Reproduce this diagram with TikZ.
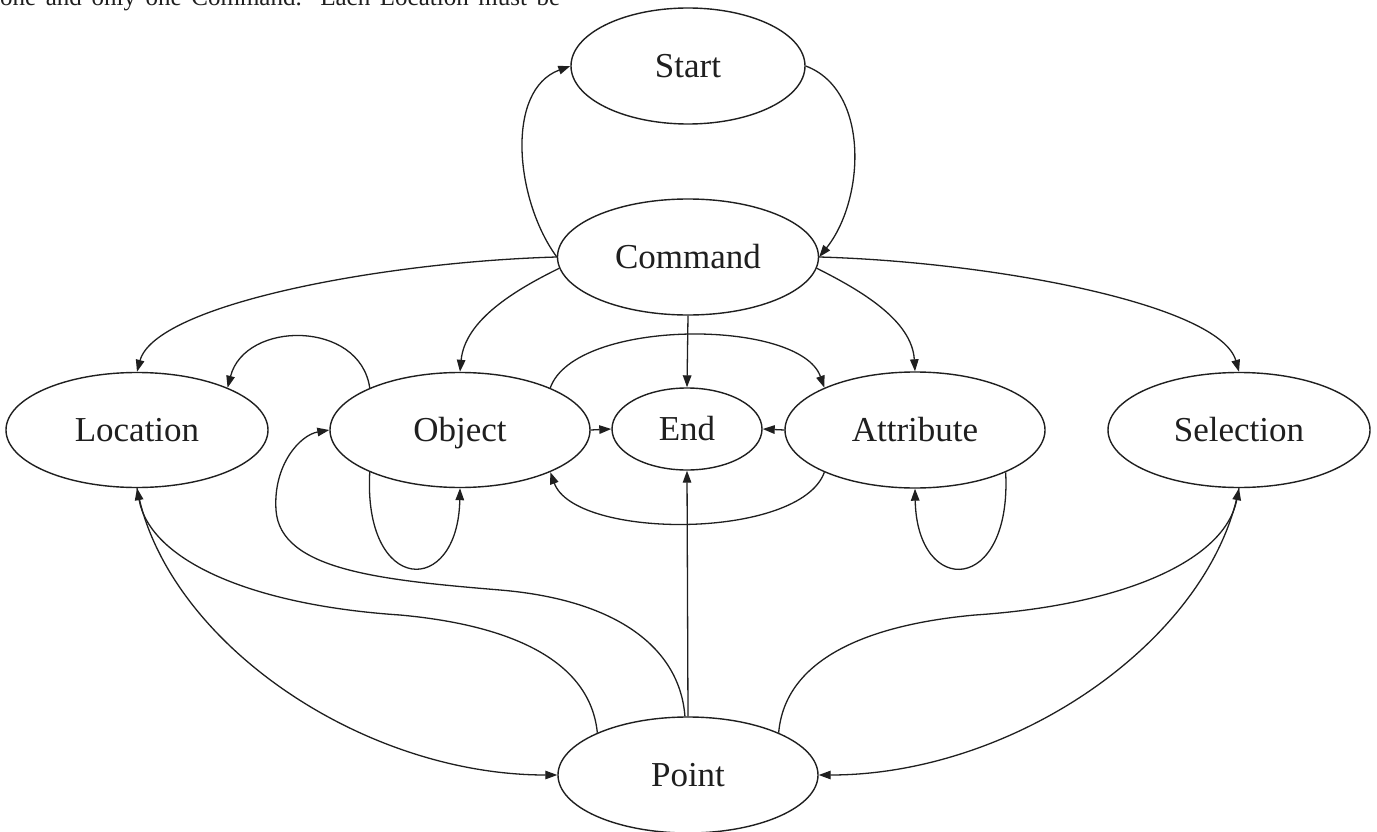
\documentclass[tikz,border=0pt]{standalone}
\usepackage{fontspec}
\setmainfont{Liberation Serif}
\usetikzlibrary{shapes.geometric,arrows.meta}
\begin{document}
\begin{tikzpicture}[x=1pt,y=-1pt,
  state/.style={draw=black!88, ellipse, line width=1.4pt, inner sep=0pt, text=black!88,
    text height=24pt, text depth=1pt, font=\fontsize{35}{40}\selectfont},
  conn/.style={draw=black!88, line width=1.3pt, -{Triangle[length=12pt,width=8.5pt]}},
]
\useasboundingbox (0,0) rectangle (1377,832);
\clip (0,0) rectangle (1377,832);
\fill[white] (0,0) rectangle (1377,832);

\node[anchor=base west, inner sep=0pt, text=black!88, font=\fontsize{25}{30}\selectfont] (toptext) at (0,6)
  {\makebox[560pt][s]{one and only one Command. Each Location must be}};

\node[state, minimum width=234pt, minimum height=116pt] (start) at (688,66) {Start};
\node[state, minimum width=261pt, minimum height=116pt] (command) at (688,257) {Command};
\node[state, minimum width=262pt, minimum height=115pt] (location) at (137,430) {Location};
\node[state, minimum width=260pt, minimum height=115pt] (object) at (460,430) {Object};
\node[state, minimum width=150pt, minimum height=82pt] (end) at (687,429) {End};
\node[state, minimum width=260pt, minimum height=116pt] (attribute) at (915,430) {Attribute};
\node[state, minimum width=262pt, minimum height=115pt] (selection) at (1239,430) {Selection};
\node[state, minimum width=260pt, minimum height=116pt] (point) at (688,775) {Point};

\draw[conn] (command.west) .. controls (515,200) and (505,90) .. (start.west);
\draw[conn] (start.east) .. controls (870,90) and (865,200) .. (command.east);
\draw[conn] (command.west) .. controls (380,262) and (155,305) .. (location.north);
\draw[conn] (command.185) .. controls (515,290) and (465,320) .. (object.north);
\draw[conn] (command.south) -- (end.north);
\draw[conn] (command.355) .. controls (860,290) and (912,320) .. (attribute.north);
\draw[conn] (command.east) .. controls (996,262) and (1220,305) .. (selection.north);
\draw[conn] (object.155) .. controls (360,320) and (245,320) .. (location.25);
\draw[conn] (object.205) .. controls (363,595) and (458,598) .. (object.south);
\draw[conn] (object.east) -- (end.west);
\draw[conn] (attribute.west) -- (end.east);
\draw[conn] (object.25) .. controls (575,318) and (800,318) .. (attribute.155);
\draw[conn] (attribute.205) .. controls (800,540) and (575,540) .. (object.335);
\draw[conn] (attribute.335) .. controls (1012,595) and (917,598) .. (attribute.south);
\draw[conn] (point.north) -- (end.south);
\draw[conn] (location.south) .. controls (165,640) and (360,775) .. (point.west);
\draw[conn] (point.155) .. controls (590,660) and (510,625) .. (400,615)
  .. controls (250,605) and (150,560) .. (location.south);
\draw[conn] (point.93) .. controls (680,650) and (620,600) .. (500,590)
  .. controls (380,580) and (280,570) .. (276,510)
  .. controls (273,465) and (300,435) .. (object.west);
\draw[conn] (selection.south) .. controls (1210,640) and (1015,775) .. (point.east);
\draw[conn] (point.25) .. controls (785,660) and (865,625) .. (975,615)
  .. controls (1125,605) and (1225,560) .. (selection.south);
\end{tikzpicture}
\end{document}
